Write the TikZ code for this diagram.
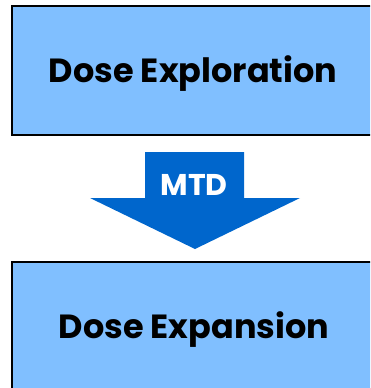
\documentclass[tikz,border=0pt]{standalone}
\usepackage{fontspec}
\setmainfont{Poppins}
\definecolor{boxblue}{HTML}{80BFFF}
\definecolor{arrowblue}{HTML}{0066CC}
\begin{document}
\begin{tikzpicture}[x=1pt,y=-1pt,
  stagebox/.style={draw=black,line width=1.5pt,fill=boxblue},
  stagetext/.style={font=\fontsize{33.5}{36}\selectfont\bfseries,text=black},
  arrowtext/.style={font=\fontsize{30}{32}\selectfont\bfseries,text=white}]
\useasboundingbox (0,0) rectangle (370,388);
\clip (0,0) rectangle (370,388);
\draw[stagebox] (12,6) rectangle (376,135);
\node[stagetext] (explo) at (193,74) {Dose Exploration};
\draw[stagebox] (12,262) rectangle (376,395);
\node[stagetext] (expan) at (194,330) {Dose Expansion};
\fill[arrowblue] (145,152) -- (244,152) -- (244,198) -- (300,198) -- (195,249) -- (90,198) -- (145,198) -- cycle;
\node[arrowtext] (mtd) at (194,185) {MTD};
\end{tikzpicture}
\end{document}
